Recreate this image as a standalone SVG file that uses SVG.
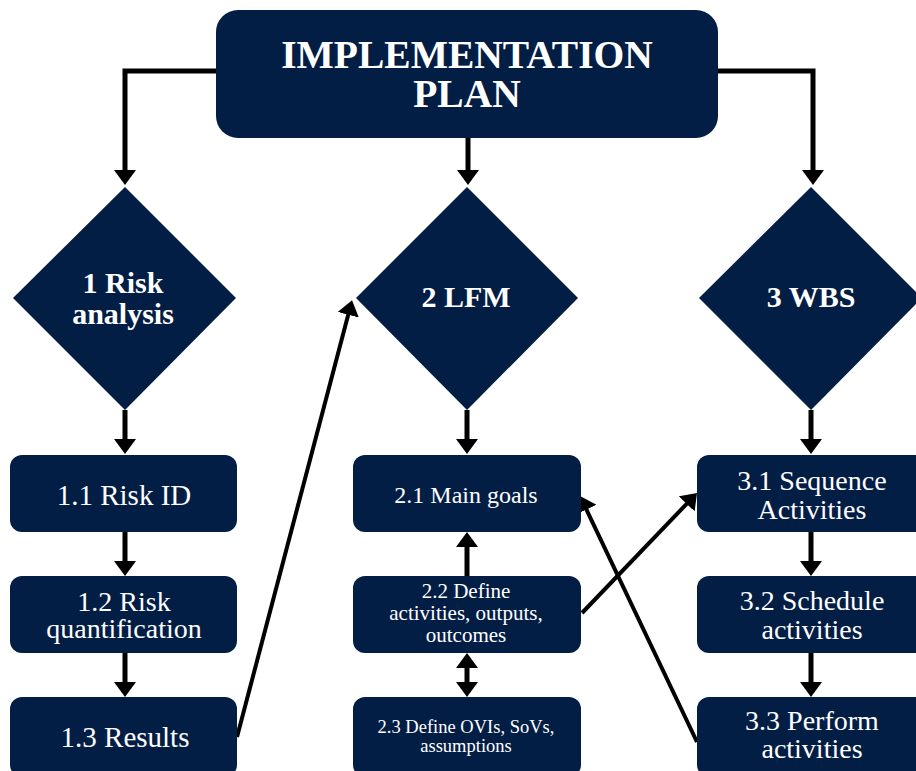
<svg xmlns="http://www.w3.org/2000/svg" width="916" height="771" viewBox="0 0 916 771">
<style>
.n{fill:#031E45}
.t{fill:#fff;font-family:"Liberation Serif","Times New Roman",serif;text-anchor:middle}
.b{font-weight:bold}
.c{fill:none;stroke:#000;stroke-width:5}
.d{fill:none;stroke:#000;stroke-width:4}
</style>
<defs>
<marker id="ah" viewBox="0 0 15 22" refX="7" refY="11" markerWidth="15" markerHeight="22" markerUnits="userSpaceOnUse" orient="auto-start-reverse">
<path d="M0,0 L15,11 L0,22 z" fill="#000"/>
</marker>
</defs>
<rect width="916" height="771" fill="#fff"/>
<g id="connectors">
<path class="c" d="M216,71 H125 V177" marker-end="url(#ah)"/>
<path class="c" d="M468,138 V177" marker-end="url(#ah)"/>
<path class="c" d="M718,71 H813 V177" marker-end="url(#ah)"/>
<path class="c" d="M125,410 V446" marker-end="url(#ah)"/>
<path class="c" d="M467,410 V446" marker-end="url(#ah)"/>
<path class="c" d="M811,410 V446" marker-end="url(#ah)"/>
<path class="c" d="M125,532 V568" marker-end="url(#ah)"/>
<path class="c" d="M125,653 V689" marker-end="url(#ah)"/>
<path class="c" d="M811,532 V568" marker-end="url(#ah)"/>
<path class="c" d="M811,653 V689" marker-end="url(#ah)"/>
<path class="c" d="M467,576 V540" marker-end="url(#ah)"/>
<path class="c" d="M467,661 V689" marker-start="url(#ah)" marker-end="url(#ah)"/>
<path class="d" d="M237,737 L350,308" marker-end="url(#ah)"/>
<path class="d" d="M582,613 L691.5,498.8" marker-end="url(#ah)"/>
<path class="d" d="M697,742 L583.4,503.2" marker-end="url(#ah)"/>
</g>
<g id="plan">
<rect class="n" x="216" y="10" width="502" height="128" rx="22"/>
<text class="t b" x="467" y="68" font-size="39.5">IMPLEMENTATION</text>
<text class="t b" x="467" y="107" font-size="39.5">PLAN</text>
</g>
<g id="risk">
<polygon class="n" points="125,187 236,298 125,410 13,298"/>
<text class="t b" x="123" y="293" font-size="30">1 Risk</text>
<text class="t b" x="123" y="324" font-size="30">analysis</text>
</g>
<g id="lfm">
<polygon class="n" points="467,187 578,298 467,410 356,298"/>
<text class="t b" x="466" y="307" font-size="30">2 LFM</text>
</g>
<g id="wbs">
<polygon class="n" points="811,187 922,298 811,410 699,298"/>
<text class="t b" x="811" y="307" font-size="30">3 WBS</text>
</g>
<g id="n11">
<rect class="n" x="10" y="455" width="227" height="77" rx="12"/>
<text class="t" x="124" y="505" font-size="29">1.1 Risk ID</text>
</g>
<g id="n12">
<rect class="n" x="10" y="576" width="227" height="77" rx="12"/>
<text class="t" x="124" y="611" font-size="28">1.2 Risk</text>
<text class="t" x="124" y="638" font-size="28">quantification</text>
</g>
<g id="n13">
<rect class="n" x="10" y="697" width="227" height="80" rx="12"/>
<text class="t" x="125" y="747" font-size="29">1.3 Results</text>
</g>
<g id="n21">
<rect class="n" x="353" y="455" width="228" height="77" rx="12"/>
<text class="t" x="466" y="503" font-size="24">2.1 Main goals</text>
</g>
<g id="n22">
<rect class="n" x="353" y="576" width="228" height="77" rx="12"/>
<text class="t" x="466" y="598" font-size="21">2.2 Define</text>
<text class="t" x="466" y="620" font-size="21">activities, outputs,</text>
<text class="t" x="466" y="642" font-size="21">outcomes</text>
</g>
<g id="n23">
<rect class="n" x="353" y="697" width="228" height="80" rx="12"/>
<text class="t" x="466" y="733" font-size="18.5">2.3 Define OVIs, SoVs,</text>
<text class="t" x="466" y="752" font-size="18.5">assumptions</text>
</g>
<g id="n31">
<rect class="n" x="697" y="455" width="230" height="77" rx="12"/>
<text class="t" x="812" y="490" font-size="28">3.1 Sequence</text>
<text class="t" x="812" y="519" font-size="28">Activities</text>
</g>
<g id="n32">
<rect class="n" x="697" y="576" width="230" height="77" rx="12"/>
<text class="t" x="812" y="610" font-size="28">3.2 Schedule</text>
<text class="t" x="812" y="639" font-size="28">activities</text>
</g>
<g id="n33">
<rect class="n" x="697" y="697" width="230" height="80" rx="12"/>
<text class="t" x="812" y="730" font-size="28">3.3 Perform</text>
<text class="t" x="812" y="758" font-size="28">activities</text>
</g>
</svg>
